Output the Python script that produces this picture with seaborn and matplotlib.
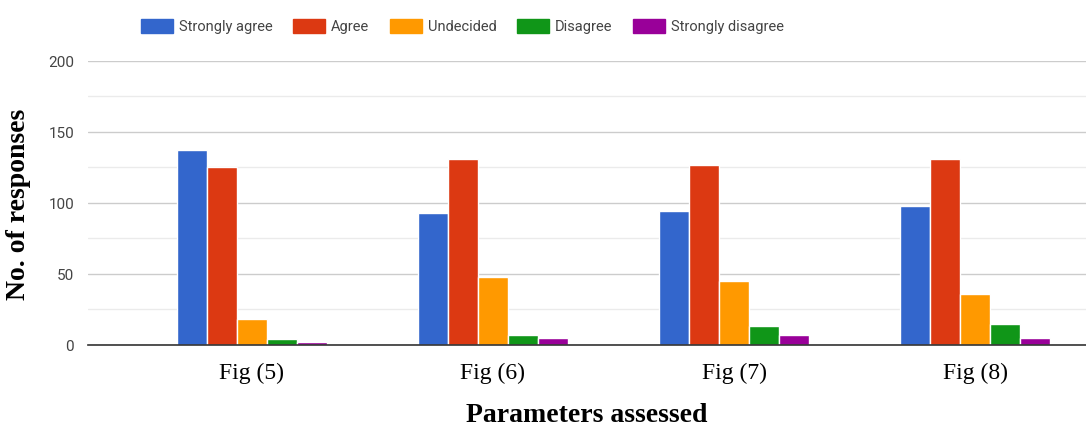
import pandas as pd
import matplotlib.pyplot as plt
import seaborn as sns
from matplotlib.ticker import MultipleLocator

# values
figures = ["Fig (5)", "Fig (6)", "Fig (7)", "Fig (8)"]
responses = ["Strongly agree", "Agree", "Undecided", "Disagree", "Strongly disagree"]
strongly_agree = [137, 93, 94, 98]
agree = [125, 131, 127, 131]
undecided = [18, 48, 45, 36]
disagree = [4, 7, 13, 15]
strongly_disagree = [2, 5, 7, 5]
colors = ["#3366CC", "#DC3912", "#FF9900", "#109618", "#990099"]

series = [strongly_agree, agree, undecided, disagree, strongly_disagree]
rows = []
for resp, vals in zip(responses, series):
    for fig_name, v in zip(figures, vals):
        rows.append({"figure": fig_name, "response": resp, "count": v})
df = pd.DataFrame(rows)

sns.set_style("white")
fig = plt.figure(figsize=(10.86, 4.27), dpi=100)
ax = fig.add_axes([0.081, 0.19, 0.919, 0.665])

sns.barplot(data=df, x="figure", y="count", hue="response", hue_order=responses,
            palette=colors, saturation=1, width=0.62, edgecolor="white",
            linewidth=1, legend=False, ax=ax)

ax.set_ylim(0, 200)
ax.set_xlim(-0.68, 3.46)
ax.yaxis.set_major_locator(MultipleLocator(50))
ax.yaxis.set_minor_locator(MultipleLocator(25))
ax.grid(axis="y", which="major", color="#cccccc", linewidth=1)
ax.grid(axis="y", which="minor", color="#ebebeb", linewidth=1)
ax.set_axisbelow(True)
for s in ["top", "right", "left"]:
    ax.spines[s].set_visible(False)
ax.spines["bottom"].set_color("#333333")
ax.spines["bottom"].set_linewidth(1.2)

ax.tick_params(axis="y", which="both", length=0, pad=10, labelsize=11,
               labelcolor="#444444")
ax.tick_params(axis="x", length=0, pad=12, labelcolor="black")
for lab in ax.get_yticklabels():
    lab.set_family("Roboto")
ax.set_xticks(range(len(figures)))
ax.set_xticklabels(figures, family="Liberation Serif", fontsize=17)

ax.set_xlabel("Parameters assessed", family="Liberation Serif", fontsize=20,
              fontweight="bold", color="black", labelpad=14)
ax.set_ylabel("No. of responses", family="Liberation Serif", fontsize=20,
              fontweight="bold", color="black", labelpad=12)

handles = [plt.Rectangle((0, 0), 1, 1, color=c) for c in colors]
fig.legend(handles, responses, loc="upper left", bbox_to_anchor=(0.118, 0.985),
           ncol=5, frameon=False, handlelength=2.2, handleheight=1.1,
           handletextpad=0.4, columnspacing=1.4, labelcolor="#444444",
           prop={"family": "Roboto", "size": 10.5})

fig.savefig("out.png", dpi=100)
